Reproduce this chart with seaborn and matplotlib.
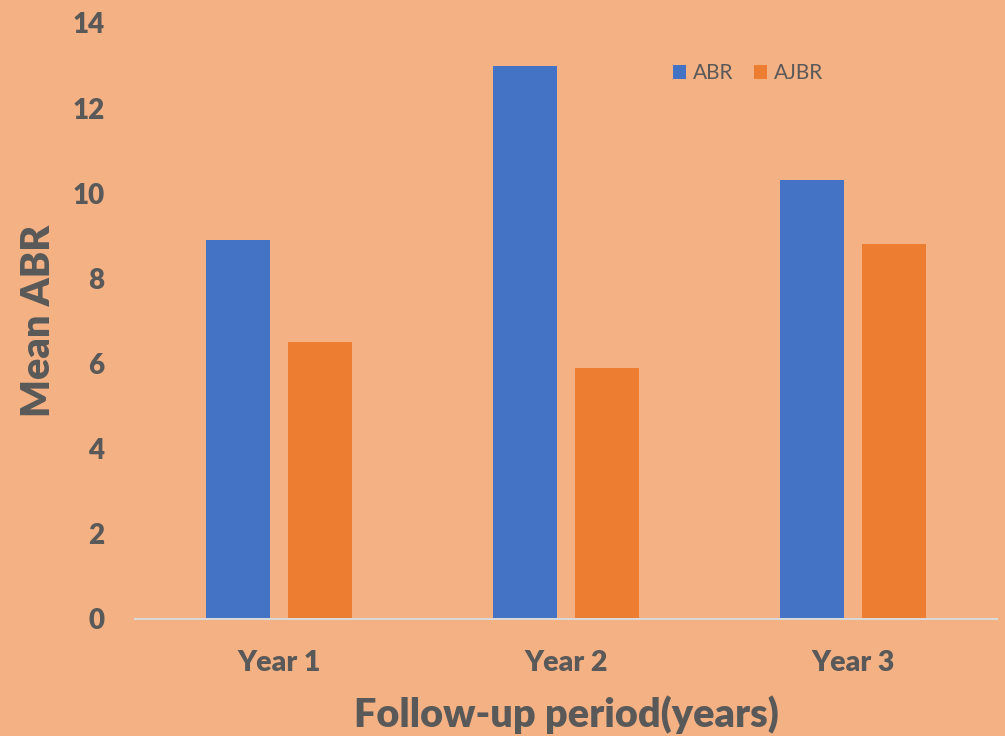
import matplotlib
matplotlib.use("Agg")
import matplotlib.pyplot as plt
import seaborn as sns
import pandas as pd

# Mean annual bleeding rates per follow-up year
years = ["Year 1", "Year 2", "Year 3"]
abr = [8.9, 13.0, 10.3]
ajbr = [6.5, 5.9, 8.8]
series = ["ABR", "AJBR"]
yticks = [0, 2, 4, 6, 8, 10, 12, 14]

bg = "#F4B183"
colors = ["#4472C4", "#ED7D31"]
text_color = "#595959"

df = pd.DataFrame({
    "year": years * 2,
    "series": [series[0]] * len(years) + [series[1]] * len(years),
    "value": abr + ajbr,
})

sns.set_theme(style="white")
plt.rcParams["font.family"] = ["Lato", "DejaVu Sans"]

fig = plt.figure(figsize=(10.05, 7.36), dpi=100, facecolor=bg)
ax = fig.add_axes([0.1343, 0.159, 0.8577, 0.8098])
ax.set_facecolor(bg)

sns.barplot(data=df, x="year", y="value", hue="series", palette=colors,
            width=0.57, gap=0.218, ax=ax, saturation=1, edgecolor="none",
            linewidth=0)

ax.set_xlim(-0.5, 2.5)
ax.set_ylim(0, 14)
ax.set_yticks(yticks)
ax.set_yticklabels([str(t) for t in yticks])

for s in ["top", "right", "left"]:
    ax.spines[s].set_visible(False)
ax.spines["bottom"].set_color("#D9D9D9")
ax.spines["bottom"].set_linewidth(1.5)
ax.tick_params(axis="y", length=0, labelsize=20, labelcolor=text_color, pad=22)
ax.tick_params(axis="x", length=0, labelsize=20.5, labelcolor=text_color, pad=22)
for lbl in ax.get_xticklabels() + ax.get_yticklabels():
    lbl.set_fontweight("heavy")

ax.set_xlabel("Follow-up period(years)", fontsize=28.5, fontweight="heavy",
              color=text_color, labelpad=14)
ax.set_ylabel("Mean ABR", fontsize=28.5, fontweight="heavy",
              color=text_color)
ax.yaxis.set_label_coords(-0.09, 0.5)

leg = ax.legend(loc="center", bbox_to_anchor=(0.711, 0.916), ncol=2,
                frameon=False, fontsize=15, handlelength=0.65,
                handleheight=0.65, handletextpad=0.3, columnspacing=1.0)
for t in leg.get_texts():
    t.set_color(text_color)

fig.savefig("out.png", dpi=100, facecolor=bg)
